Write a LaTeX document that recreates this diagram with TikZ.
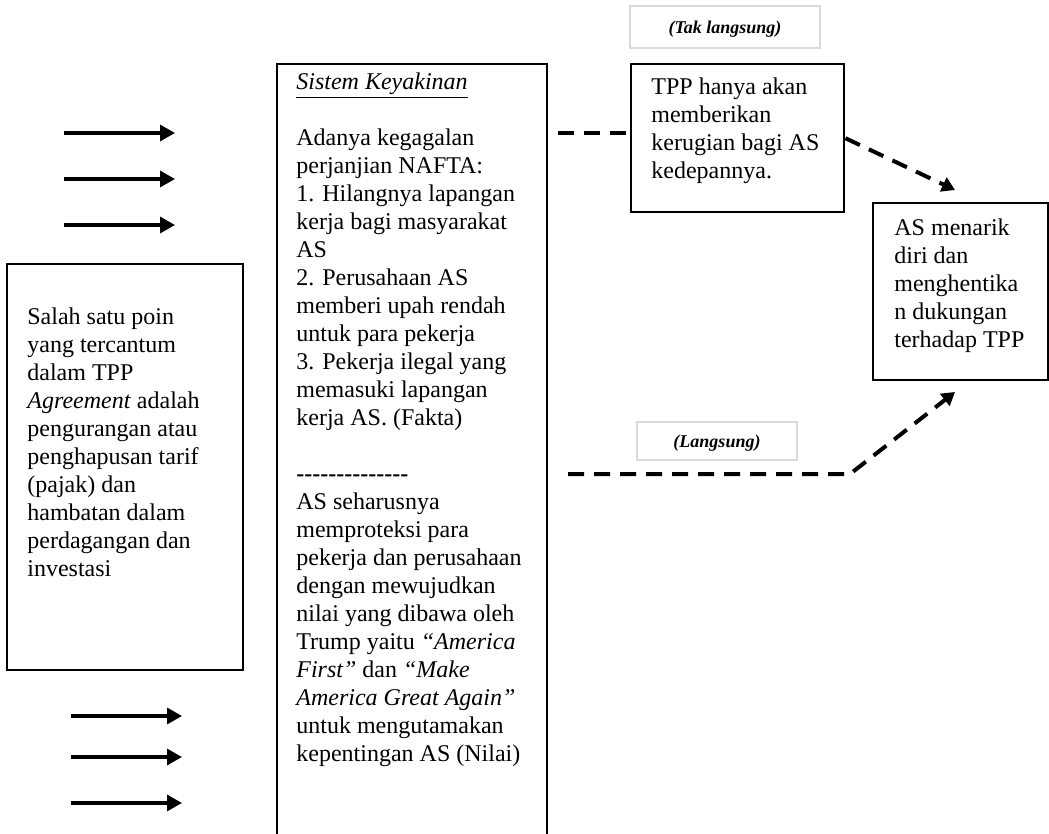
\documentclass[tikz,border=0pt]{standalone}
\usepackage{fontspec}
\setmainfont{Liberation Serif}
\usetikzlibrary{arrows.meta}
\newcommand{\garis}{\rule{0pt}{10pt}}
\newcommand{\hy}{\mbox{-}}

\begin{document}
\begin{tikzpicture}[x=0.5pt, y=-0.5pt,
    font=\fontsize{12}{14}\selectfont,
    kotak/.style={draw, line width=1.2pt, inner sep=0pt, anchor=north west},
    teks/.style={inner sep=0pt, anchor=north west, align=left},
    ket/.style={draw=gray!30, line width=1pt, inner sep=0pt, text depth=0pt,
        font=\fontsize{9}{10}\selectfont\bfseries\itshape},
    panah/.style={line width=1.6pt, -{Triangle[length=7.5pt, width=8pt]}},
    putus/.style={line width=2pt, dash pattern=on 8pt off 5pt},
    putuspanah/.style={putus, -{Triangle[length=6.5pt, width=7.5pt]}}]
    \useasboundingbox (0,0) rectangle (1049,834);

    % Kotak utama
    \node[kotak, minimum width=118pt, minimum height=203pt] (kiri) at (6,263) {};
    \node[kotak, minimum width=135pt, minimum height=390pt] (sistem) at (276,63) {};
    \node[kotak, minimum width=106.5pt, minimum height=74pt] (tpp) at (630,63) {};
    \node[kotak, minimum width=87.5pt, minimum height=88.5pt] (hasil) at (872,202) {};

    % Isi kotak
    \node[teks] (kiriisi) at (27,304) {\garis Salah satu poin\\
        yang tercantum\\ dalam TPP\\ \textit{Agreement} adalah\\
        pengurangan atau\\ penghapusan tarif\\ (pajak) dan\\
        hambatan dalam\\ perdagangan dan\\ investasi};
    \node[teks] (sistemisi) at (296,69) {\garis\underline{\textit{Sistem Keyakinan}}\\[14pt]
        Adanya kegagalan\\ perjanjian NAFTA:\\ 1. Hilangnya lapangan\\
        kerja bagi masyarakat\\ AS\\ 2. Perusahaan AS\\ memberi upah rendah\\
        untuk para pekerja\\ 3. Pekerja ilegal yang\\ memasuki lapangan\\
        kerja AS. (Fakta)\\[14pt]
        \textbf{\hy\hy\hy\hy\hy\hy\hy\hy\hy\hy\hy\hy\hy\hy}\\
        AS seharusnya\\ memproteksi para\\ pekerja dan perusahaan\\
        dengan mewujudkan\\ nilai yang dibawa oleh\\ Trump yaitu \textit{“America}\\
        \textit{First”} dan \textit{“Make}\\ \textit{America Great Again”}\\
        untuk mengutamakan\\ kepentingan AS (Nilai)};
    \node[teks] (tppisi) at (651,74) {\garis TPP hanya akan\\ memberikan\\
        kerugian bagi AS\\ kedepannya.};
    \node[teks] (hasilisi) at (894,215) {\garis AS menarik\\ diri dan\\
        menghentika\\ n dukungan\\ terhadap TPP};

    % Keterangan jalur
    \node[ket, minimum width=95pt, minimum height=21pt] (tak) at (725,27) {(Tak langsung)};
    \node[ket, minimum width=80pt, minimum height=19pt] (langsung) at (717,441) {(Langsung)};

    % Panah kiri
    \foreach \i/\y in {1/133,2/179,3/225} {
        \coordinate (a\i) at (64,\y);
        \coordinate (b\i) at (175,\y);
        \draw[panah] (a\i) -- (b\i);
    }
    \foreach \i/\y in {1/716,2/757,3/803} {
        \coordinate (c\i) at (71,\y);
        \coordinate (d\i) at (182,\y);
        \draw[panah] (c\i) -- (d\i);
    }

    % Jalur tak langsung
    \coordinate (p1) at (558,133);
    \coordinate (p2) at (955,190);
    \draw[putus] (p1) -- (p1 -| tpp.west);
    \draw[putuspanah] (tpp.east) -- (p2);

    % Jalur langsung
    \coordinate (q1) at (568,474);
    \coordinate (q2) at (850,474);
    \coordinate (q3) at (955,392);
    \draw[putuspanah] (q1) -- (q2) -- (q3);
\end{tikzpicture}
\end{document}
